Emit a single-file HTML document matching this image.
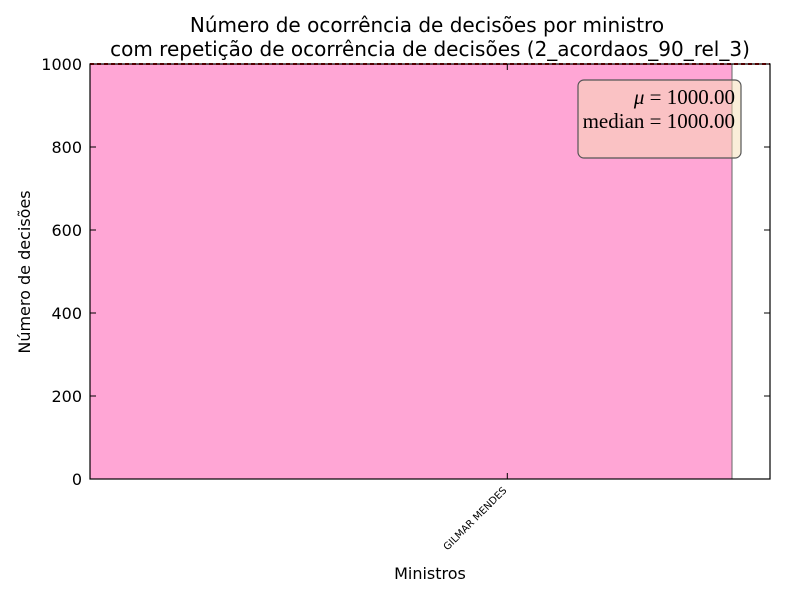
<!DOCTYPE html>
<html><head><meta charset="utf-8"><style>
body{margin:0;background:#fff;}
svg text{font-family:"DejaVu Sans","Liberation Sans",sans-serif;}
svg text.serif{font-family:"Liberation Serif","DejaVu Serif",serif;}
</style></head><body>
<svg id="c" width="800" height="600" xmlns="http://www.w3.org/2000/svg">
<rect width="800" height="600" fill="#fff"/>
<text x="427" y="32" font-size="20" text-anchor="middle">Número de ocorrência de decisões por ministro</text>
<text x="430" y="56" font-size="20" text-anchor="middle">com repetição de ocorrência de decisões (2_acordaos_90_rel_3)</text>
<g id="plot"></g>
<text x="430" y="579" font-size="16" text-anchor="middle">Ministros</text>
<text transform="translate(30,272) rotate(-90)" font-size="16" text-anchor="middle">Número de decisões</text>
</svg>
<script>
const categories = ["GILMAR MENDES"];
const values = [1000];
const yTicks = [0, 200, 400, 600, 800, 1000];
const meanVal = 1000, medianVal = 1000;

const L=90,R=770,T=64,B=479;
const y = v => B - (v/1000)*(B-T);
const x = u => L + u*642;
const g = document.getElementById('plot');
const NS='http://www.w3.org/2000/svg';
function mk(tag,attrs){const e=document.createElementNS(NS,tag);for(const k in attrs)e.setAttribute(k,attrs[k]);g.appendChild(e);return e;}

values.forEach((v,i)=>{
  const r=mk('rect',{x:x(i),y:y(v),width:x(i+1)-x(i),height:B-y(v),fill:'#ffa6d5',stroke:'#666','stroke-width':1});
  
  
});
const ml=mk('line',{x1:L,x2:R,y1:y(meanVal),y2:y(meanVal),stroke:'#c00','stroke-width':2,'stroke-dasharray':'4,3'});


const axis=mk('rect',{x:L,y:T,width:R-L,height:B-T,fill:'none',stroke:'#000','stroke-width':1.2});


yTicks.forEach(t=>{
  mk('line',{x1:L,x2:L+6,y1:y(t),y2:y(t),stroke:'#000'});
  mk('line',{x1:R-6,x2:R,y1:y(t),y2:y(t),stroke:'#000'});
  const tx=mk('text',{x:L-8,y:y(t)+6,'font-size':16,'text-anchor':'end'});
  tx.textContent=t;
  
  
});
categories.forEach((c,i)=>{
  const cx=x(i+0.65);
  mk('line',{x1:cx,x2:cx,y1:B,y2:B-6,stroke:'#000'});
  mk('line',{x1:cx,x2:cx,y1:T,y2:T+6,stroke:'#000'});
  const tx=mk('text',{x:cx,y:B+12,'font-size':10,'text-anchor':'end',transform:`rotate(-45 ${cx} ${B+12})`});
  tx.textContent=c;
  
  
});
const box=mk('rect',{x:578,y:80,width:163,height:78,rx:6,fill:'#f5deb3','fill-opacity':0.5,stroke:'#555','stroke-width':1.2});


const t1=mk('text',{x:735,y:104,'font-size':21,'text-anchor':'end','class':'serif'});
t1.innerHTML='<tspan font-style="italic">μ</tspan> = '+meanVal.toFixed(2);


const t2=mk('text',{x:735,y:128,'font-size':21,'text-anchor':'end','class':'serif'});
t2.textContent='median = '+medianVal.toFixed(2);


</script>
</body></html>
